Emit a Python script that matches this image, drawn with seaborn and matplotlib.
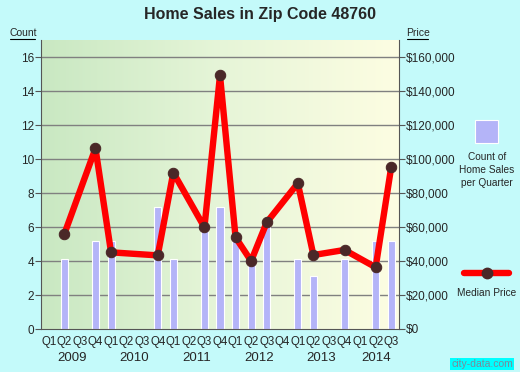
import numpy as np
import pandas as pd
import matplotlib
matplotlib.use("Agg")
import matplotlib.pyplot as plt
from matplotlib.lines import Line2D
from matplotlib.patches import Rectangle
from matplotlib.ticker import FuncFormatter
import seaborn as sns

# quarters 2009 Q1 .. 2014 Q3
quarters = ["Q1", "Q2", "Q3", "Q4"] * 5 + ["Q1", "Q2", "Q3"]
years = ["2009", "2010", "2011", "2012", "2013", "2014"]
# count of home sales per quarter (None = no sales)
sales_count = [None, 4.1, None, 5.15, 5.15, None, None, 7.2,
               4.1, None, 6.2, 7.2, 5.15, 4.1, 6.2, None,
               4.1, 3.1, None, 4.1, None, 5.15, 5.15]
# median price per quarter
median_price = [None, 55900, None, 106300, 45100, None, None, 43300,
                92000, None, 59800, 149200, 53900, 40000, 62700, None,
                85700, 43500, None, 46500, None, 36300, 95300]

bg = "#c4fafa"
bar_col = "#b4b4f8"
line_col = "#ff0000"
dot_col = "#4a2828"

sns.set_style("white")
plt.rcParams["font.family"] = ["Liberation Sans", "DejaVu Sans"]

fig = plt.figure(figsize=(5.2, 3.72), dpi=100, facecolor=bg)
ax = fig.add_axes([41 / 520, 1 - 329 / 372, 358 / 520, 289 / 372])
ax2 = ax.twinx()

# gradient background
grad = np.linspace(0, 1, 256).reshape(1, -1)
cmap = matplotlib.colors.LinearSegmentedColormap.from_list("bg", ["#c9e8c2", "#e6f5d8", "#fdfde2"])
ax.imshow(grad, extent=[-0.5, 22.5, 0, 17], aspect="auto", cmap=cmap, zorder=0)

idx = np.arange(len(quarters))
df = pd.DataFrame({"i": idx, "count": sales_count, "price": median_price})
bars = df.dropna(subset=["count"])
sns.barplot(data=bars, x="i", y="count", native_scale=True, color=bar_col,
            saturation=1, width=0.45, edgecolor="white", linewidth=0.8, ax=ax, zorder=2)

for y in range(2, 17, 2):
    ax.axhline(y, color="#808080", lw=1, zorder=1)

ax.set_xlim(-0.5, 22.5)
ax.set_ylim(0, 17)
ax.set_yticks(range(0, 17, 2))
ax.set_xticks(idx)
ax.set_xticklabels(quarters, fontsize=8.3)
ax.tick_params(axis="x", length=0, pad=5)
ax.set_xticks(np.arange(-0.5, 23, 1), minor=True)
ax.tick_params(axis="x", which="minor", length=4, color="#555555")
ax.tick_params(axis="y", length=4, color="#555555", labelsize=8.5, pad=1)
ax.set_xlabel("")
ax.set_ylabel("")
for s in ax.spines.values():
    s.set_visible(False)
ax.spines["left"].set_visible(True)
ax.spines["bottom"].set_visible(True)
ax.spines["left"].set_color("#555555")
ax.spines["bottom"].set_color("#555555")

line = df.dropna(subset=["price"])
sns.lineplot(data=line, x="i", y="price", color=line_col, lw=4.6, marker="o",
             markersize=7.5, markerfacecolor=dot_col, markeredgecolor=dot_col, ax=ax2, zorder=3)
ax2.set_ylim(0, 170000)
ax2.set_yticks(range(0, 160001, 20000))
ax2.yaxis.set_major_formatter(FuncFormatter(lambda v, p: f"${v:,.0f}"))
ax2.tick_params(axis="y", length=4, color="#555555", labelsize=8.5, pad=1)
ax2.set_ylabel("")
ax2.set_xlabel("")
for s in ax2.spines.values():
    s.set_visible(False)
ax2.spines["right"].set_visible(True)
ax2.spines["right"].set_color("#555555")

# year labels
starts = [0, 4, 8, 12, 16, 20]
for yr, st in zip(years, starts):
    n = 4 if yr != "2014" else 3
    ax.text(st + (n - 1) / 2, -29 / 289, yr, transform=ax.get_xaxis_transform(),
            ha="center", va="center", fontsize=9.5)

fig.text(0.5, 1 - 15 / 372, "Home Sales in Zip Code 48760", ha="center", va="center",
         fontsize=11.5, fontweight="bold")
fig.text(10 / 520, 1 - 33 / 372, "Count", ha="left", va="center", fontsize=7.5)
fig.add_artist(Line2D([10 / 520, 35 / 520], [1 - 39 / 372] * 2, color="black", lw=0.8))
fig.text(406 / 520, 1 - 33 / 372, "Price", ha="left", va="center", fontsize=7.5)
fig.add_artist(Line2D([407 / 520, 428 / 520], [1 - 39 / 372] * 2, color="black", lw=0.8))

# legend
fig.add_artist(Rectangle((475 / 520, 1 - 143 / 372), 23 / 520, 23 / 372,
                         facecolor=bar_col, edgecolor="white", lw=0.8, transform=fig.transFigure))
fig.text(487 / 520, 1 - 170 / 372, "Count of\nHome Sales\nper Quarter", ha="center", va="center",
         fontsize=7.3, linespacing=1.35)
fig.add_artist(Line2D([464 / 520, 509 / 520], [1 - 273 / 372] * 2, color=line_col, lw=4.6))
fig.add_artist(Line2D([487 / 520], [1 - 273 / 372], marker="o", markersize=7.5,
                      color=dot_col, transform=fig.transFigure))
fig.text(487 / 520, 1 - 293 / 372, "Median Price", ha="center", va="center", fontsize=7.3)

fig.text(513 / 520, 1 - 364 / 372, "city-data.com", ha="right", va="center", fontsize=7.5,
         color="#7a8a9a", bbox=dict(facecolor="#00ffff", edgecolor="none", pad=1))

fig.savefig("out.png", dpi=100, facecolor=bg)
